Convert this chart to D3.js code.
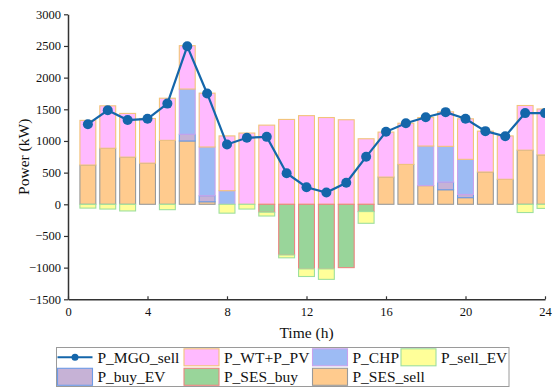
<!DOCTYPE html>
<html>
<head>
<meta charset="utf-8">
<script src="https://cdn.jsdelivr.net/npm/d3@7"></script>
<style>
  html, body { margin: 0; padding: 0; background: #fff; }
  svg { display: block; }
  text { font-family: "Liberation Serif", "Times New Roman", serif; fill: #111; }
</style>
</head>
<body>
<svg id="chart" width="560" height="388"></svg>
<script>
// Hourly power schedule (kW)
const hours   = [1,2,3,4,5,6,7,8,9,10,11,12,13,14,15,16,17,18,19,20,21,22,23,24];
const mgoSell = [1265,1485,1330,1350,1590,2495,1750,945,1050,1065,490,270,185,340,750,1145,1280,1375,1455,1350,1155,1075,1440,1440];
const wtPv    = [705,670,690,705,665,685,850,865,1125,1250,1340,1400,1370,1335,1035,710,650,450,545,640,645,685,705,725];
const chp     = [0,0,0,0,0,715,770,215,0,0,0,0,0,0,0,0,0,625,565,555,0,0,0,0];
const buyEV   = [0,0,0,0,0,105,95,0,0,0,0,0,0,0,0,0,0,0,120,50,0,0,0,0];
const sesSell = [620,885,745,650,1010,1000,40,0,0,0,0,0,0,0,0,430,630,295,230,105,510,395,855,780];
const sesBuy  = [0,0,0,0,0,0,0,0,0,-125,-800,-1020,-1020,-1000,-115,0,0,0,0,0,0,0,0,0];
const sellEV  = [-60,-75,-105,0,-85,0,0,-140,-75,-60,-45,-120,-165,0,-185,0,0,0,0,0,0,0,-130,-65];

const xTicks = [0,4,8,12,16,20,24];
const yTicks = [-1500,-1000,-500,0,500,1000,1500,2000,2500,3000];

// Series styling: stacked upward in key order, negatives downward in key order
const series = [
  { key: "sesSell", label: "P_SES_sell", values: sesSell, fill: "#FFCB8E", stroke: "#9a9a9a" },
  { key: "buyEV",   label: "P_buy_EV",   values: buyEV,   fill: "#C6B2D6", stroke: "#6E9BE6" },
  { key: "chp",     label: "P_CHP",      values: chp,     fill: "#9DBBF4", stroke: "#C9A2EC" },
  { key: "wtPv",    label: "P_WT+P_PV",  values: wtPv,    fill: "#FFBAFF", stroke: "#F2C47A" },
  { key: "sesBuy",  label: "P_SES_buy",  values: sesBuy,  fill: "#99D59A", stroke: "#EC8580" },
  { key: "sellEV",  label: "P_sell_EV",  values: sellEV,  fill: "#FFFF99", stroke: "#9EDF9E" }
];
const lineColor = "#1466AA";
const serif = "'Liberation Serif', 'Times New Roman', serif";

const rows = hours.map((h, i) => {
  const r = { hour: h };
  series.forEach(s => { r[s.key] = s.values[i]; });
  return r;
});

const svg = d3.select("#chart");
const m = { left: 68, right: 545, top: 14.3, bottom: 299.3 };

const x = d3.scaleLinear().domain([0, 24]).range([m.left, m.right]);
const y = d3.scaleLinear().domain([-1500, 3000]).range([m.bottom, m.top]);

svg.append("defs").append("clipPath").attr("id", "plotClip")
  .append("rect").attr("x", m.left).attr("y", 0)
  .attr("width", m.right - m.left).attr("height", m.bottom);

const plot = svg.append("g").attr("clip-path", "url(#plotClip)");

const stack = d3.stack()
  .keys(series.map(s => s.key))
  .offset(d3.stackOffsetDiverging);
const stacked = stack(rows);

const barW = x(0.8) - x(0);

stacked.forEach((layer, li) => {
  const s = series[li];
  plot.append("g")
    .selectAll("rect")
    .data(layer.filter(d => d[1] !== d[0]))
    .join("rect")
    .attr("x", d => x(d.data.hour) - barW / 2)
    .attr("y", d => y(Math.max(d[0], d[1])))
    .attr("width", barW)
    .attr("height", d => Math.abs(y(d[0]) - y(d[1])))
    .attr("fill", s.fill)
    .attr("stroke", s.stroke)
    .attr("stroke-width", 1.1);
});

// MGO selling power line
const line = d3.line().x((d, i) => x(hours[i])).y(d => y(d));
plot.append("path")
  .datum(mgoSell)
  .attr("d", line)
  .attr("fill", "none")
  .attr("stroke", lineColor)
  .attr("stroke-width", 2.2);
plot.append("g")
  .selectAll("circle")
  .data(mgoSell)
  .join("circle")
  .attr("cx", (d, i) => x(hours[i]))
  .attr("cy", d => y(d))
  .attr("r", 5)
  .attr("fill", lineColor);

// Axes
const axisColor = "#333";
const xAxis = svg.append("g")
  .attr("transform", `translate(0,${m.bottom})`)
  .call(d3.axisBottom(x).tickValues(xTicks).tickFormat(d3.format("d"))
    .tickSizeInner(-3).tickSizeOuter(0).tickPadding(8));
const yAxis = svg.append("g")
  .attr("transform", `translate(${m.left},0)`)
  .call(d3.axisLeft(y).tickValues(yTicks).tickFormat(d3.format("d"))
    .tickSizeInner(4).tickSizeOuter(0).tickPadding(3));

[xAxis, yAxis].forEach(g => {
  g.attr("font-family", serif).attr("font-size", 12.5);
  g.select(".domain").attr("stroke", axisColor).attr("stroke-width", 1.5);
  g.selectAll(".tick line").attr("stroke", axisColor).attr("stroke-width", 1.2);
  g.selectAll(".tick text").attr("fill", "#111");
});

svg.append("text")
  .attr("x", x(12))
  .attr("y", 338)
  .attr("text-anchor", "middle")
  .style("font-size", "15.5px")
  .text("Time (h)");

svg.append("text")
  .attr("transform", `translate(29,${(m.top + m.bottom) / 2}) rotate(-90)`)
  .attr("text-anchor", "middle")
  .style("font-size", "15.5px")
  .text("Power (kW)");

// Legend
const lg = svg.append("g");
lg.append("rect")
  .attr("x", 56.5).attr("y", 347.5)
  .attr("width", 452.5).attr("height", 39)
  .attr("fill", "#fff").attr("stroke", "#9a9a9a").attr("stroke-width", 1);

const byKey = Object.fromEntries(series.map(s => [s.key, s]));
const legendItems = [
  { type: "line", label: "P_MGO_sell", col: 0, row: 0 },
  { type: "box", s: byKey.wtPv,    col: 1, row: 0 },
  { type: "box", s: byKey.chp,     col: 2, row: 0 },
  { type: "box", s: byKey.sellEV,  col: 3, row: 0 },
  { type: "box", s: byKey.buyEV,   col: 0, row: 1 },
  { type: "box", s: byKey.sesBuy,  col: 1, row: 1 },
  { type: "box", s: byKey.sesSell, col: 2, row: 1 }
];
const colX = [57.5, 184, 312.5, 401];
const rowY = [348.8, 368.3];
const swW = 35, swH = 17;

legendItems.forEach(it => {
  const x0 = colX[it.col], y0 = rowY[it.row];
  if (it.type === "line") {
    lg.append("line")
      .attr("x1", x0).attr("x2", x0 + swW)
      .attr("y1", y0 + swH / 2).attr("y2", y0 + swH / 2)
      .attr("stroke", lineColor).attr("stroke-width", 2);
    lg.append("circle")
      .attr("cx", x0 + swW / 2).attr("cy", y0 + swH / 2).attr("r", 3.5)
      .attr("fill", lineColor);
  } else {
    lg.append("rect")
      .attr("x", x0).attr("y", y0)
      .attr("width", swW).attr("height", swH)
      .attr("fill", it.s.fill).attr("stroke", it.s.stroke).attr("stroke-width", 1.1);
  }
  lg.append("text")
    .attr("x", x0 + swW + 5)
    .attr("y", y0 + swH / 2 + 5.2)
    .style("font-size", "15.5px")
    .text(it.type === "line" ? it.label : it.s.label);
});
</script>
</body>
</html>
